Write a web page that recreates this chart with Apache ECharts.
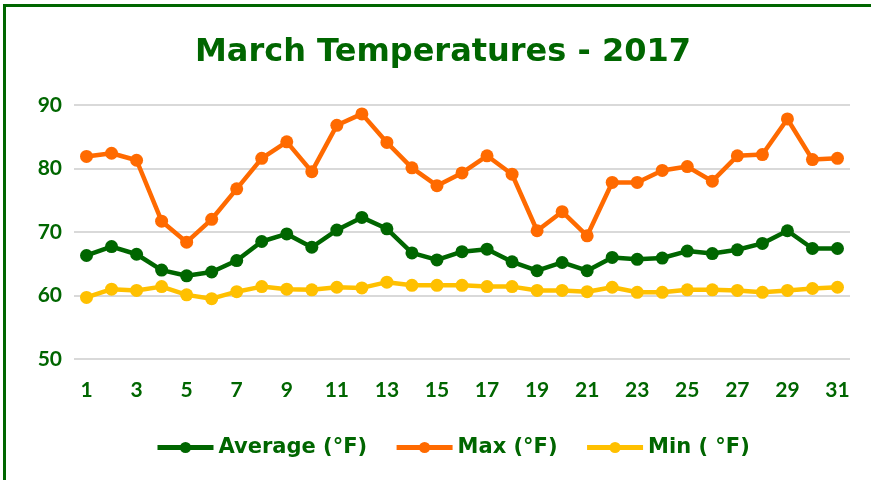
<!DOCTYPE html>
<html><head><meta charset="utf-8">
<script src="https://cdn.jsdelivr.net/npm/echarts@6/dist/echarts.min.js"></script>
<style>html,body{margin:0;padding:0;background:#fff}#c{width:871px;height:480px}</style>
</head><body><div id="c"></div>
<script>
const days = ['1','2','3','4','5','6','7','8','9','10','11','12','13','14','15','16','17','18','19','20','21','22','23','24','25','26','27','28','29','30','31'];
const avgTemps = [66.3,67.7,66.5,64.0,63.1,63.7,65.5,68.5,69.7,67.6,70.3,72.3,70.5,66.7,65.6,66.9,67.3,65.3,63.9,65.2,63.9,66.0,65.7,65.9,67.0,66.6,67.2,68.2,70.2,67.4,67.4];
const maxTemps = [81.9,82.4,81.3,71.7,68.4,72.0,76.8,81.6,84.2,79.5,86.8,88.6,84.1,80.1,77.3,79.3,82.0,79.1,70.2,73.2,69.4,77.8,77.8,79.7,80.3,78.0,82.0,82.2,87.8,81.4,81.6];
const minTemps = [59.7,61.0,60.8,61.4,60.1,59.5,60.6,61.4,61.0,60.9,61.3,61.2,62.1,61.6,61.6,61.6,61.4,61.4,60.8,60.8,60.6,61.3,60.5,60.5,60.9,60.9,60.8,60.5,60.8,61.1,61.3];
const seriesNames = ['Average (°F)','Max (°F)','Min ( °F)'];
const titleText = 'March Temperatures - 2017';

const green = '#006600';
const wideFont = '"DejaVu Sans", sans-serif';
const numFont = 'Lato, "Open Sans", sans-serif';
const chart = echarts.init(document.getElementById('c'));
function mk(name, data, color){
  return {name, type:'line', data, symbol:'circle', symbolSize:13,
    lineStyle:{width:4.5,color}, itemStyle:{color}, z:3};
}
chart.setOption({
  animation:false,
  graphic:[{type:'rect', shape:{x:4.5,y:5.5,width:900,height:600}, style:{fill:'none',stroke:green,lineWidth:3}, z:-1}],
  title:{text:titleText, left:190, top:32, textStyle:{color:green, fontFamily:wideFont, fontWeight:'bold', fontSize:32}},
  legend:{top:432, left:150, itemWidth:56, itemHeight:14, itemGap:27,
    lineStyle:{width:5},
    textStyle:{color:green, fontFamily:wideFont, fontWeight:'bold', fontSize:21},
    data:seriesNames},
  grid:{left:74, right:21, top:105, bottom:121},
  xAxis:{type:'category', data:days, boundaryGap:true,
    axisLine:{show:false}, axisTick:{show:false},
    axisLabel:{interval:1, color:green, fontFamily:numFont, fontWeight:'bold', fontSize:21, margin:21}},
  yAxis:{type:'value', min:50, max:90, interval:10,
    axisLine:{show:false}, axisTick:{show:false},
    splitLine:{lineStyle:{color:'#d9d9d9', width:2}},
    axisLabel:{color:green, fontFamily:numFont, fontWeight:'bold', fontSize:21, margin:12}},
  series:[mk(seriesNames[0], avgTemps, '#006600'), mk(seriesNames[1], maxTemps, '#ff6a00'), mk(seriesNames[2], minTemps, '#ffc000')]
});
</script></body></html>
